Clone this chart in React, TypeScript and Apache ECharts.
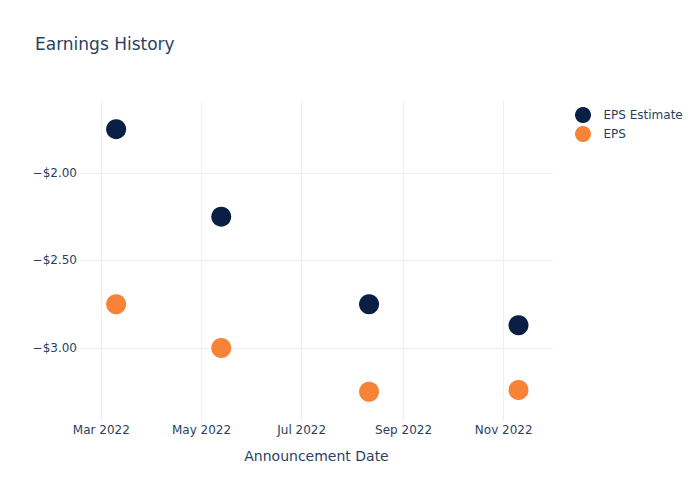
import React, { useEffect, useRef } from "react";
import * as echarts from "echarts";

const dates = ["2022-03-10", "2022-05-13", "2022-08-11", "2022-11-10"];
const epsEstimate = [-1.75, -2.25, -2.75, -2.87];
const eps = [-2.75, -3.0, -3.25, -3.24];
const xTickDates = ["2022-03-01", "2022-05-01", "2022-07-01", "2022-09-01", "2022-11-01"];
const yTicks = [-3.0, -2.5, -2.0];
const monthNames = ["Jan", "Feb", "Mar", "Apr", "May", "Jun", "Jul", "Aug", "Sep", "Oct", "Nov", "Dec"];

const ts = (d: string) => {
  const [y, m, dd] = d.split("-").map(Number);
  return Date.UTC(y, m - 1, dd);
};

const FONT = "DejaVu Sans";
const TEXT = "#2a3f5f";

export default function App() {
  const ref = useRef<HTMLDivElement>(null);
  useEffect(() => {
    if (!ref.current) return;
    const chart = echarts.init(ref.current, null, { renderer: "svg" });
    const xTicks = xTickDates.map(ts);
    chart.setOption({
      animation: false,
      textStyle: { fontFamily: FONT },
      title: {
        text: "Earnings History",
        left: 30,
        top: 30,
        textStyle: { fontFamily: FONT, fontSize: 17, fontWeight: "normal", color: TEXT },
      },
      legend: {
        orient: "vertical",
        left: 570,
        top: 102,
        itemWidth: 31,
        itemHeight: 16,
        itemGap: 3,
        icon: "circle",
        textStyle: { fontFamily: FONT, fontSize: 12, color: TEXT },
        data: ["EPS Estimate", "EPS"],
      },
      grid: { left: 80, right: 147, top: 101, bottom: 79, containLabel: false },
      xAxis: {
        type: "value",
        min: ts("2022-02-16"),
        max: ts("2022-12-01"),
        name: "Announcement Date",
        nameLocation: "middle",
        nameGap: 28,
        nameTextStyle: { fontFamily: FONT, fontSize: 14, color: TEXT },
        axisLine: { show: false },
        axisTick: { show: false, customValues: xTicks },
        axisLabel: {
          customValues: xTicks,
          fontFamily: FONT,
          fontSize: 12,
          color: TEXT,
          margin: 3,
          formatter: (v: number) => {
            const d = new Date(v);
            return monthNames[d.getUTCMonth()] + " " + d.getUTCFullYear();
          },
        },
        splitLine: { show: true, lineStyle: { color: "#ebf0f8", width: 1 } },
      },
      yAxis: {
        type: "value",
        min: -3.417,
        max: -1.589,
        axisLine: { show: false },
        axisTick: { show: false, customValues: yTicks },
        axisLabel: {
          customValues: yTicks,
          fontFamily: FONT,
          fontSize: 12,
          color: TEXT,
          margin: 3,
          formatter: (v: number) => (v < 0 ? "\u2212" : "") + "$" + Math.abs(v).toFixed(2),
        },
        splitLine: { show: true, lineStyle: { color: "#ebf0f8", width: 1 } },
      },
      series: [
        {
          name: "EPS Estimate",
          type: "scatter",
          symbolSize: 20,
          itemStyle: { color: "#0a1f44", opacity: 1 },
          data: dates.map((d, i) => [ts(d), epsEstimate[i]]),
        },
        {
          name: "EPS",
          type: "scatter",
          symbolSize: 20,
          itemStyle: { color: "#f68338", opacity: 1 },
          data: dates.map((d, i) => [ts(d), eps[i]]),
        },
      ],
    });
    return () => chart.dispose();
  }, []);
  return <div ref={ref} style={{ width: 700, height: 500, margin: -8 }} />;
}
